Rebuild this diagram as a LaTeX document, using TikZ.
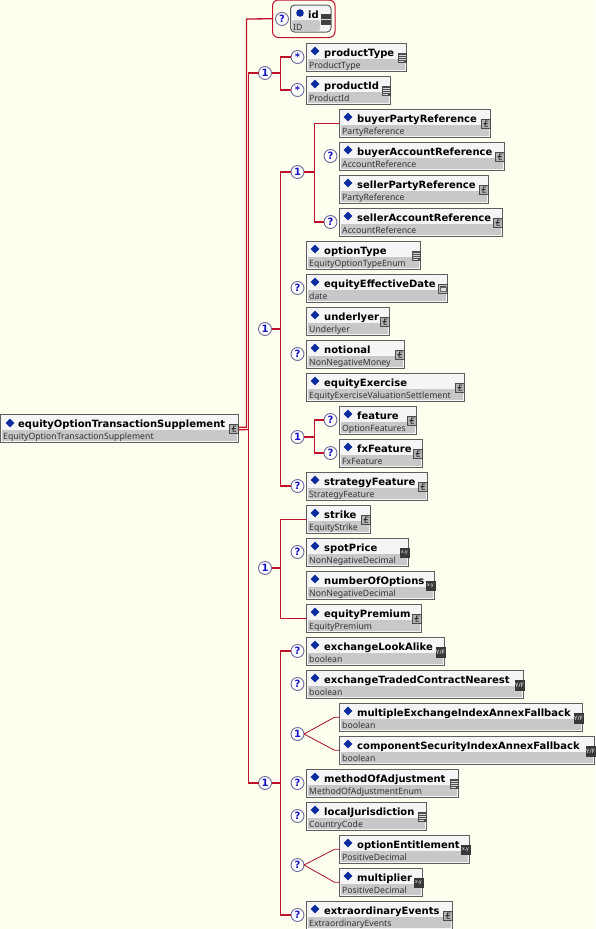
\documentclass[tikz,border=0pt]{standalone}
\usepackage{fontspec}
\newfontfamily\nmfont{DejaVu Sans}
\newfontfamily\tyfont{Noto Sans}
\definecolor{bgc}{HTML}{FFFFF0}
\definecolor{wirec}{HTML}{C0102A}
\definecolor{bandc}{HTML}{C8C8C8}
\definecolor{edgec}{HTML}{5E5E5E}
\definecolor{bluec}{HTML}{0B2C9E}
\definecolor{mkblue}{HTML}{1414C8}
\definecolor{mkedge}{HTML}{6A6A9A}
\tikzset{
  x=1pt,y=-1pt,
  elbox/.style={draw=edgec,line width=1pt,fill=white!96!black,rectangle,inner sep=0,outer sep=0,minimum height=27.5pt,anchor=north west},
  nmtext/.style={font=\nmfont\bfseries\fontsize{10}{11}\selectfont,text=black,inner sep=0,anchor=base west},
  tytext/.style={font=\tyfont\fontsize{8.7}{10}\selectfont,text=black!80,inner sep=0,anchor=base west},
  mk/.style={circle,draw=mkedge,line width=.9pt,fill=white,minimum size=13pt,inner sep=0,outer sep=0,text=mkblue,font=\nmfont\bfseries\fontsize{10}{10}\selectfont},
  wire/.style={draw=wirec,line width=1.3pt},
  thinwire/.style={draw=wirec!85!black,line width=.8pt},
  icotext/.style={inner sep=0,text=white,font=\tyfont\fontsize{5}{5}\selectfont},
}
\newcommand\icC{\draw[edgec!80!black,fill=black!30,line width=.8pt](0,0)rectangle(9,9);
  \draw[black!85,line width=.8pt](6.8,2)--(4,2)--(3.4,7.3)--(6.4,7.3)(2.2,4.6)--(6,4.6);}
\newcommand\icE{\fill[black!70](0,0)rectangle(9.5,10);
  \draw[white!85!black,line width=.8pt](1.5,2)--(8,2)(1.5,4)--(8,4)(1.5,6)--(8,6)(1.5,8)--(6,8);}
\newcommand\icD{\draw[edgec!80!black,fill=black!25,line width=.8pt](0,0)rectangle(9,9);
  \fill[black!70](1.5,1.5)rectangle(7.5,3);\draw[black!60,fill=black!12,line width=.4pt](1.8,3.5)rectangle(7.2,7.5);}
\newcommand\icX{\fill[black!78](0,0)rectangle(10,10);\node[icotext] (\elid xy) at (5,5) {x.y};}
\newcommand\icB{\fill[black!78](0,0)rectangle(10,11);\node[icotext,font=\tyfont\fontsize{6}{6}\selectfont] (\elid yf) at (5,5.5) {Y/F};}
\newcommand\el[7]{%
  \pgfmathsetmacro\boxw{#4-#2-1}\def\elid{#1}%
  \begin{scope}[shift={(#2+.5,#3+.5)}]
    \node[elbox,minimum width=\boxw pt] (#1) at (0,0) {};
    \fill[bandc] (1,15) rectangle (\boxw-2,26);
    \node[nmtext] (#1n) at (17.5,13) {#5};
    \node[tytext] (#1t) at (2.5,25) {#6};
    \begin{scope}[shift={(\boxw-9,9.5)}]#7\end{scope}
  \end{scope}}
\begin{document}
\begin{tikzpicture}
\useasboundingbox (0,0) rectangle (595,929);
\fill[bgc] (0,0) rectangle (595,929);
% diamonds
\tikzset{dm/.pic={\fill[bluec] (0,-4.3)--(4.3,0)--(0,4.3)--(-4.3,0)--cycle;}}
% id group
\node[draw=wirec,line width=1pt,rounded corners=6pt,minimum width=62.5pt,minimum height=37.5pt,inner sep=0,outer sep=0,anchor=north west] (idg) at (272.5,0) {};
\node[draw=edgec,line width=1pt,rounded corners=4pt,fill=white!96!black,minimum width=40.5pt,minimum height=27pt,inner sep=0,outer sep=0,anchor=north west] (idb) at (290.5,5) {};
\fill[bandc,rounded corners=2pt] (292,20) rectangle (320,31);
\fill[bluec] (300,13) circle (3.8pt);
\node[nmtext] (idn) at (308,18) {id};
\node[tytext] (idt) at (293,30.5) {ID};
\fill[black!75] (321,14) rectangle (331,25);
\draw[white!85!black,line width=1.2pt] (321,19.5)--(331,19.5);
% elements
\el{root}{0}{414}{239}{equityOptionTransactionSupplement}{EquityOptionTransactionSupplement}{\icC}
\el{pt}{306}{43}{407}{productType}{ProductType}{\icE}
\el{pi}{306}{76}{391}{productId}{ProductId}{\icE}
\el{bpr}{339}{109}{491}{buyerPartyReference}{PartyReference}{\icC}
\el{bar}{339}{142}{505}{buyerAccountReference}{AccountReference}{\icC}
\el{spr}{339}{175}{489}{sellerPartyReference}{PartyReference}{\icC}
\el{sar}{339}{208}{503}{sellerAccountReference}{AccountReference}{\icC}
\el{ot}{306}{241}{421}{optionType}{EquityOptionTypeEnum}{\icE}
\el{eed}{306}{274}{448}{equityEffectiveDate}{date}{\icD}
\el{ul}{306}{307}{390}{underlyer}{Underlyer}{\icC}
\el{nt}{306}{340}{405}{notional}{NonNegativeMoney}{\icC}
\el{ee}{306}{373}{465}{equityExercise}{EquityExerciseValuationSettlement}{\icC}
\el{fe}{339}{406}{417}{feature}{OptionFeatures}{\icC}
\el{fx}{339}{439}{423}{fxFeature}{FxFeature}{\icC}
\el{sf}{306}{472}{428}{strategyFeature}{StrategyFeature}{\icC}
\el{st}{306}{505}{371}{strike}{EquityStrike}{\icC}
\el{sp}{306}{538}{409}{spotPrice}{NonNegativeDecimal}{\icX}
\el{no}{306}{571}{435}{numberOfOptions}{NonNegativeDecimal}{\icX}
\el{ep}{306}{604}{422}{equityPremium}{EquityPremium}{\icC}
\el{el}{306}{637}{445}{exchangeLookAlike}{boolean}{\icB}
\el{et}{306}{670}{524}{exchangeTradedContractNearest}{boolean}{\icB}
\el{me}{339}{703}{583}{multipleExchangeIndexAnnexFallback}{boolean}{\icB}
\el{cs}{339}{736}{595}{componentSecurityIndexAnnexFallback}{boolean}{\icB}
\el{ma}{306}{769}{459}{methodOfAdjustment}{MethodOfAdjustmentEnum}{\icE}
\el{lj}{306}{802}{427}{localJurisdiction}{CountryCode}{\icE}
\el{oe}{339}{835}{470}{optionEntitlement}{PositiveDecimal}{\icX}
\el{mu}{339}{868}{423}{multiplier}{PositiveDecimal}{\icX}
\el{xe}{306}{901}{453}{extraordinaryEvents}{ExtraordinaryEvents}{\icC}
% diamond marks
\foreach \a/\b in {10/423,315/51,315/84,348/117,348/150,348/183,348/216,315/249,315/282,315/315,315/348,315/381,348/414,348/447,315/480,315/513,315/546,315/579,315/612,315/645,315/678,348/711,348/744,315/777,315/810,348/843,348/876,315/909}
  \pic at (\a,\b) {dm};
% markers
\node[mk] (idq) at (282,19) {?};
\node[mk] (o1) at (265,73) {1};
\node[mk] (o2) at (265,329) {1};
\node[mk] (o3) at (265,568) {1};
\node[mk] (o4) at (265,783) {1};
\node[mk] (a1) at (297.5,57) {*};
\node[mk] (a2) at (297.5,90) {*};
\node[mk] (c1) at (297.5,172) {1};
\node[mk] (q1) at (330.5,156) {?};
\node[mk] (q2) at (330.5,222) {?};
\node[mk] (q3) at (297.5,288) {?};
\node[mk] (q4) at (297.5,354) {?};
\node[mk] (c2) at (297.5,437) {1};
\node[mk] (q5) at (330.5,420) {?};
\node[mk] (q6) at (330.5,453) {?};
\node[mk] (q7) at (297.5,486) {?};
\node[mk] (q8) at (297.5,552) {?};
\node[mk] (q9) at (297.5,651) {?};
\node[mk] (q10) at (297.5,684) {?};
\node[mk] (c3) at (297.5,734) {1};
\node[mk] (q11) at (297.5,783) {?};
\node[mk] (q12) at (297.5,816) {?};
\node[mk] (q13) at (297.5,865) {?};
\node[mk] (q14) at (297.5,915) {?};
% junctions
\coordinate (bi) at (246.5,19);
\coordinate (b1) at (248.5,429.5);
\coordinate (b2) at (248.5,73);
\coordinate (b3) at (248.5,783);
\coordinate (j1) at (280.5,73);
\coordinate (j2) at (280.5,329);
\coordinate (j3) at (280.5,568);
\coordinate (j4) at (280.5,783);
\coordinate (k1) at (314.5,172);
\coordinate (k2) at (314.5,437);
% connectors
\draw[wire] ([yshift=1pt]root.east) -| (bi) -- (idg.west);
\draw[wire] ([yshift=-1.5pt]root.east) -- (b1);
\draw[wire] (o1.west) -- (b2) -- (b3) -- (o4.west);
\draw[wire] (o1.east) -- (j1);
\draw[wire] (a1.west) -| (j1) |- (a2.west);
\draw[wire] (o2.east) -- (j2);
\draw[wire] (c1.west) -| (j2) |- (q7.west);
\draw[wire] (c1.east) -- (k1);
\draw[wire] (bpr.west) -| (k1) |- (q2.west);
\draw[wire] (c2.east) -- (k2);
\draw[wire] (q5.west) -| (k2) |- (q6.west);
\draw[wire] (o3.east) -- (j3);
\draw[wire] (st.west) -| (j3) |- (ep.west);
\draw[wire] (o4.east) -- (j4);
\draw[wire] (q9.west) -| (j4) |- (q14.west);
\draw[thinwire] (c3.east) -- ([xshift=-5pt]me.west) -- (me.west);
\draw[thinwire] (c3.east) -- ([xshift=-5pt]cs.west) -- (cs.west);
\draw[thinwire] (q13.east) -- ([xshift=-5pt]oe.west) -- (oe.west);
\draw[thinwire] (q13.east) -- ([xshift=-5pt]mu.west) -- (mu.west);
\end{tikzpicture}
\end{document}
